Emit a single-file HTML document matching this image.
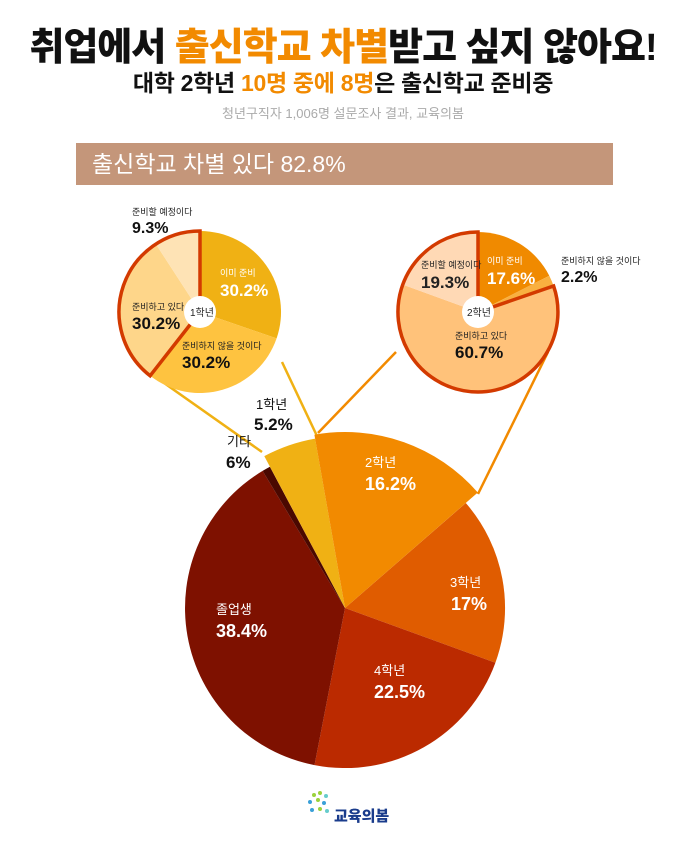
<!DOCTYPE html>
<html><head><meta charset="utf-8">
<style>
html,body{margin:0;padding:0;background:#fff;}
body{width:686px;height:844px;position:relative;overflow:hidden;font-family:"Liberation Sans","Noto Sans CJK KR",sans-serif;}
.t{position:absolute;left:0;width:686px;text-align:center;white-space:nowrap;}
</style></head><body>
<div class="t" style="top:16px;font-size:38px;font-weight:900;letter-spacing:-1px;color:#111;">취업에서 <span style="color:#f28a00">출신학교 차별</span>받고 싶지 않아요!</div>
<div class="t" style="top:64px;font-size:23px;font-weight:700;letter-spacing:-0.3px;color:#111;">대학 2학년 <span style="color:#f28a00">10명 중에 8명</span>은 출신학교 준비중</div>
<div class="t" style="top:103px;font-size:13px;color:#aaa;">청년구직자 1,006명 설문조사 결과, 교육의봄</div>
<div style="position:absolute;left:76px;top:143px;width:537px;height:42px;background:#c4967a;color:#fff;font-size:23px;line-height:42px;box-sizing:border-box;padding-left:16px;">출신학교 차별 있다 82.8%</div>
<svg id="s" width="686" height="844" style="position:absolute;left:0;top:0"></svg>
<script>
var s=document.getElementById('s'),h='';
function P(cx,cy,r,a){a=a*Math.PI/180;return [cx+r*Math.sin(a),cy-r*Math.cos(a)];}
function W(cx,cy,r,a0,a1,f){var p=P(cx,cy,r,a0),q=P(cx,cy,r,a1);var L=(a1-a0)>180?1:0;
h+='<path d="M'+cx+' '+cy+'L'+p[0].toFixed(1)+' '+p[1].toFixed(1)+'A'+r+' '+r+' 0 '+L+' 1 '+q[0].toFixed(1)+' '+q[1].toFixed(1)+'Z" fill="'+f+'"/>';}
function O(cx,cy,r,a0,a1){var p=P(cx,cy,r,a0),q=P(cx,cy,r,a1);var L=(a1-a0)>180?1:0;
h+='<path d="M'+cx+' '+cy+'L'+p[0].toFixed(1)+' '+p[1].toFixed(1)+'A'+r+' '+r+' 0 '+L+' 1 '+q[0].toFixed(1)+' '+q[1].toFixed(1)+'Z" fill="none" stroke="#d33a00" stroke-width="3.5"/>';}
function T(x,y,t,sz,c,w){h+='<text x="'+x+'" y="'+y+'" font-size="'+sz+'" fill="'+c+'" font-weight="'+(w||400)+'" font-family="Liberation Sans, Noto Sans CJK KR, sans-serif">'+t+'</text>';}
function Ln(a,b,c){h+='<line x1="'+a[0]+'" y1="'+a[1]+'" x2="'+b[0]+'" y2="'+b[1]+'" stroke="'+c+'" stroke-width="2.5"/>';}
Ln([282,362],[317,436],'#f0b114');Ln([157,378],[262,452],'#f0b114');
Ln([396,352],[318,433],'#f28a00');Ln([548,352],[478,494],'#f28a00');
var cx=345,cy=608,r=160;
W(cx,cy,r,49,110,'#e05c00');
W(cx,cy,r,110,191,'#bb2a00');
W(cx,cy,r,191,329,'#7e1100');
W(cx,cy,r,329,332,'#4a0800');
W(cx,cy,172,332,350,'#f0b114');
W(cx,cy,176,350,409,'#f28a00');
// pie 1
W(200,312,81,0,109,'#f0b114');W(200,312,81,109,218,'#fec340');
W(200,312,81,218,327,'#fed68a');W(200,312,81,327,360,'#fee3b5');
O(200,312,81,218,360);
h+='<circle cx="200" cy="312" r="16" fill="#fff"/>';
// pie 2
W(478,312,80,0,63,'#f08a00');W(478,312,80,63,71,'#f9b040');
W(478,312,80,71,290,'#ffc27a');W(478,312,80,290,360,'#ffd9b5');
O(478,312,80,71,360);
h+='<circle cx="478" cy="312" r="16" fill="#fff"/>';
T(132,215,'준비할 예정이다',9,'#222');T(132,233,'9.3%',16,'#111',700);
T(220,276,'이미 준비',9,'#fff');T(220,296,'30.2%',17,'#fff',700);
T(132,310,'준비하고 있다',9,'#222');T(132,329,'30.2%',17,'#111',700);
T(182,349,'준비하지 않을 것이다',9,'#222');T(182,368,'30.2%',17,'#111',700);
T(190,316,'1학년',10,'#222');
T(421,268,'준비할 예정이다',9,'#222');T(421,288,'19.3%',17,'#222',700);
T(487,264,'이미 준비',9,'#fff');T(487,284,'17.6%',17,'#fff',700);
T(561,264,'준비하지 않을 것이다',9,'#222');T(561,282,'2.2%',16,'#111',700);
T(455,339,'준비하고 있다',9,'#222');T(455,358,'60.7%',17,'#111',700);
T(467,316,'2학년',10,'#222');
T(256,409,'1학년',13,'#111');T(254,430,'5.2%',17,'#111',700);
T(227,446,'기타',13,'#111');T(226,468,'6%',17,'#111',700);
T(365,467,'2학년',13,'#fff');T(365,490,'16.2%',18,'#fff',700);
T(450,587,'3학년',13,'#fff');T(451,610,'17%',18,'#fff',700);
T(374,675,'4학년',13,'#fff');T(374,698,'22.5%',18,'#fff',700);
T(216,614,'졸업생',13,'#fff');T(216,637,'38.4%',18,'#fff',700);
var dots=[[314,795,'#9bd23c'],[320,793,'#9bd23c'],[326,796,'#6cc'],[310,802,'#3aa0d8'],[318,800,'#9bd23c'],[324,803,'#3aa0d8'],[312,810,'#3aa0d8'],[320,809,'#9bd23c'],[327,811,'#6cc']];
dots.forEach(function(d){h+='<circle cx="'+d[0]+'" cy="'+d[1]+'" r="2" fill="'+d[2]+'"/>';});
h+='<text x="334" y="821" font-size="15" font-weight="900" fill="#1a3c8c" font-family="Liberation Sans, Noto Sans CJK KR, sans-serif">교육의봄</text>';
s.innerHTML=h;
</script>
</body></html>
